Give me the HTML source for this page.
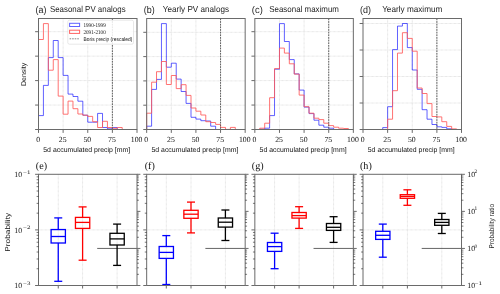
<!DOCTYPE html>
<html><head><meta charset="utf-8"><style>
html,body{margin:0;padding:0;background:#fff;width:500px;height:294px;overflow:hidden}
svg{display:block;will-change:transform} text{text-rendering:geometricPrecision}
.tk{font-family:"Liberation Serif",serif;font-size:7.8px;fill:#111}
.sup{font-family:"Liberation Serif",serif;font-size:5.4px;fill:#111}
.lab{font-family:"Liberation Sans",sans-serif;font-size:7.0px;fill:#111}
.ttl{font-family:"Liberation Sans",sans-serif;font-size:8.6px;fill:#1e1e1e}
.ttl2{font-family:"Liberation Sans",sans-serif;font-size:9.8px;fill:#1e1e1e}
.pl{font-family:"Liberation Serif",serif;font-size:10.2px;fill:#111}
.leg{font-family:"Liberation Serif",serif;font-size:5.7px;fill:#111}
.legs{font-family:"Liberation Sans",sans-serif;font-size:5.4px;fill:#111}
</style></head><body>
<svg width="500" height="294" viewBox="0 0 500 294">
<rect width="500" height="294" fill="#fff"/>
<line x1="38.50" y1="105.05" x2="137.00" y2="105.05" stroke="#e2e2e2" stroke-width="1.0" stroke-dasharray="0.8 0.5"/>
<line x1="38.50" y1="80.60" x2="137.00" y2="80.60" stroke="#e2e2e2" stroke-width="1.0" stroke-dasharray="0.8 0.5"/>
<line x1="38.50" y1="56.15" x2="137.00" y2="56.15" stroke="#e2e2e2" stroke-width="1.0" stroke-dasharray="0.8 0.5"/>
<line x1="38.50" y1="31.70" x2="137.00" y2="31.70" stroke="#e2e2e2" stroke-width="1.0" stroke-dasharray="0.8 0.5"/>
<line x1="63.12" y1="18.50" x2="63.12" y2="129.50" stroke="#e2e2e2" stroke-width="1.0" stroke-dasharray="0.8 0.5"/>
<line x1="87.75" y1="18.50" x2="87.75" y2="129.50" stroke="#e2e2e2" stroke-width="1.0" stroke-dasharray="0.8 0.5"/>
<line x1="112.38" y1="18.50" x2="112.38" y2="129.50" stroke="#e2e2e2" stroke-width="1.0" stroke-dasharray="0.8 0.5"/>
<path d="M38.50,129.50 L38.50,115.60 L43.42,115.60 L43.42,85.40 L48.35,85.40 L48.35,57.60 L53.27,57.60 L53.27,40.50 L58.20,40.50 L58.20,57.60 L63.12,57.60 L63.12,75.40 L68.05,75.40 L68.05,94.10 L72.97,94.10 L72.97,96.50 L77.90,96.50 L77.90,101.20 L82.82,101.20 L82.82,115.20 L87.75,115.20 L87.75,122.20 L92.67,122.20 L92.67,122.20 L97.60,122.20 L97.60,113.40 L102.52,113.40 L102.52,127.50 L107.45,127.50 L107.45,128.80 L112.37,128.80 L112.37,127.50 L117.30,127.50 L117.30,129.50" fill="none" stroke="#0000ff" stroke-opacity="0.62" stroke-width="1.0" stroke-linejoin="round"/>
<path d="M38.50,129.50 L38.50,39.50 L43.42,39.50 L43.42,23.60 L48.35,23.60 L48.35,70.20 L53.27,70.20 L53.27,59.60 L58.20,59.60 L58.20,96.10 L63.12,96.10 L63.12,114.20 L68.05,114.20 L68.05,101.10 L72.97,101.10 L72.97,108.70 L77.90,108.70 L77.90,114.00 L82.82,114.00 L82.82,115.20 L87.75,115.20 L87.75,116.40 L92.67,116.40 L92.67,121.70 L97.60,121.70 L97.60,127.50 L102.52,127.50 L102.52,121.30 L107.45,121.30 L107.45,127.50 L112.37,127.50 L112.37,128.30 L117.30,128.30 L117.30,127.50 L122.22,127.50 L122.22,129.50" fill="none" stroke="#ff5a5a" stroke-opacity="0.85" stroke-width="1.0" stroke-linejoin="round"/>
<line x1="112.38" y1="18.50" x2="112.38" y2="129.50" stroke="#5e5e5e" stroke-width="1.0" stroke-dasharray="1.7 0.95"/>
<rect x="38.50" y="18.50" width="98.50" height="111.00" fill="none" stroke="#6a6a6a" stroke-width="1.0"/>
<line x1="35.10" y1="129.50" x2="38.50" y2="129.50" stroke="#6a6a6a" stroke-width="1.0"/>
<line x1="35.10" y1="105.05" x2="38.50" y2="105.05" stroke="#6a6a6a" stroke-width="1.0"/>
<line x1="35.10" y1="80.60" x2="38.50" y2="80.60" stroke="#6a6a6a" stroke-width="1.0"/>
<line x1="35.10" y1="56.15" x2="38.50" y2="56.15" stroke="#6a6a6a" stroke-width="1.0"/>
<line x1="35.10" y1="31.70" x2="38.50" y2="31.70" stroke="#6a6a6a" stroke-width="1.0"/>
<line x1="38.50" y1="129.50" x2="38.50" y2="132.90" stroke="#6a6a6a" stroke-width="1.0"/>
<text transform="translate(38.10,142.00) skewX(0.3)" class="tk" text-anchor="middle">0</text>
<line x1="63.12" y1="129.50" x2="63.12" y2="132.90" stroke="#6a6a6a" stroke-width="1.0"/>
<text transform="translate(62.73,142.00) skewX(0.3)" class="tk" text-anchor="middle">25</text>
<line x1="87.75" y1="129.50" x2="87.75" y2="132.90" stroke="#6a6a6a" stroke-width="1.0"/>
<text transform="translate(87.35,142.00) skewX(0.3)" class="tk" text-anchor="middle">50</text>
<line x1="112.38" y1="129.50" x2="112.38" y2="132.90" stroke="#6a6a6a" stroke-width="1.0"/>
<text transform="translate(111.97,142.00) skewX(0.3)" class="tk" text-anchor="middle">75</text>
<line x1="137.00" y1="129.50" x2="137.00" y2="132.90" stroke="#6a6a6a" stroke-width="1.0"/>
<text transform="translate(136.60,142.00) skewX(0.3)" class="tk" text-anchor="middle">100</text>
<text transform="translate(86.75,152.40) skewX(0.3)" class="lab" text-anchor="middle" textLength="87" lengthAdjust="spacingAndGlyphs">5d accumulated precip [mm]</text>
<text transform="translate(87.75,12.10) skewX(0.3)" class="ttl" text-anchor="middle" textLength="75.7" lengthAdjust="spacingAndGlyphs">Seasonal PV analogs</text>
<text transform="translate(35.50,13.00) skewX(0.3)" class="ttl2" textLength="11" lengthAdjust="spacingAndGlyphs">(a)</text>
<line x1="146.67" y1="105.20" x2="245.17" y2="105.20" stroke="#e2e2e2" stroke-width="1.0" stroke-dasharray="0.8 0.5"/>
<line x1="146.67" y1="80.90" x2="245.17" y2="80.90" stroke="#e2e2e2" stroke-width="1.0" stroke-dasharray="0.8 0.5"/>
<line x1="146.67" y1="56.60" x2="245.17" y2="56.60" stroke="#e2e2e2" stroke-width="1.0" stroke-dasharray="0.8 0.5"/>
<line x1="146.67" y1="32.30" x2="245.17" y2="32.30" stroke="#e2e2e2" stroke-width="1.0" stroke-dasharray="0.8 0.5"/>
<line x1="171.30" y1="18.50" x2="171.30" y2="129.50" stroke="#e2e2e2" stroke-width="1.0" stroke-dasharray="0.8 0.5"/>
<line x1="195.92" y1="18.50" x2="195.92" y2="129.50" stroke="#e2e2e2" stroke-width="1.0" stroke-dasharray="0.8 0.5"/>
<line x1="220.55" y1="18.50" x2="220.55" y2="129.50" stroke="#e2e2e2" stroke-width="1.0" stroke-dasharray="0.8 0.5"/>
<path d="M146.67,129.50 L146.67,126.20 L151.60,126.20 L151.60,89.40 L156.52,89.40 L156.52,79.40 L161.45,79.40 L161.45,23.60 L166.37,23.60 L166.37,67.20 L171.30,67.20 L171.30,63.20 L176.22,63.20 L176.22,79.10 L181.15,79.10 L181.15,91.50 L186.07,91.50 L186.07,103.40 L191.00,103.40 L191.00,117.30 L195.92,117.30 L195.92,119.10 L200.85,119.10 L200.85,120.70 L205.77,120.70 L205.77,121.00 L210.70,121.00 L210.70,126.20 L215.62,126.20 L215.62,129.50" fill="none" stroke="#0000ff" stroke-opacity="0.62" stroke-width="1.0" stroke-linejoin="round"/>
<path d="M146.67,129.50 L146.67,113.20 L151.60,113.20 L151.60,82.20 L156.52,82.20 L156.52,71.70 L161.45,71.70 L161.45,61.50 L166.37,61.50 L166.37,84.50 L171.30,84.50 L171.30,75.50 L176.22,75.50 L176.22,88.60 L181.15,88.60 L181.15,84.70 L186.07,84.70 L186.07,95.40 L191.00,95.40 L191.00,108.00 L195.92,108.00 L195.92,111.20 L200.85,111.20 L200.85,115.00 L205.77,115.00 L205.77,121.70 L210.70,121.70 L210.70,122.50 L215.62,122.50 L215.62,124.40 L220.55,124.40 L220.55,127.40 L225.47,127.40 L225.47,129.40 L230.40,129.40 L230.40,127.40 L235.32,127.40 L235.32,129.50" fill="none" stroke="#ff5a5a" stroke-opacity="0.85" stroke-width="1.0" stroke-linejoin="round"/>
<line x1="220.55" y1="18.50" x2="220.55" y2="129.50" stroke="#5e5e5e" stroke-width="1.0" stroke-dasharray="1.7 0.95"/>
<rect x="146.67" y="18.50" width="98.50" height="111.00" fill="none" stroke="#6a6a6a" stroke-width="1.0"/>
<line x1="143.27" y1="129.50" x2="146.67" y2="129.50" stroke="#6a6a6a" stroke-width="1.0"/>
<line x1="143.27" y1="105.20" x2="146.67" y2="105.20" stroke="#6a6a6a" stroke-width="1.0"/>
<line x1="143.27" y1="80.90" x2="146.67" y2="80.90" stroke="#6a6a6a" stroke-width="1.0"/>
<line x1="143.27" y1="56.60" x2="146.67" y2="56.60" stroke="#6a6a6a" stroke-width="1.0"/>
<line x1="143.27" y1="32.30" x2="146.67" y2="32.30" stroke="#6a6a6a" stroke-width="1.0"/>
<line x1="146.67" y1="129.50" x2="146.67" y2="132.90" stroke="#6a6a6a" stroke-width="1.0"/>
<text transform="translate(146.27,142.00) skewX(0.3)" class="tk" text-anchor="middle">0</text>
<line x1="171.30" y1="129.50" x2="171.30" y2="132.90" stroke="#6a6a6a" stroke-width="1.0"/>
<text transform="translate(170.90,142.00) skewX(0.3)" class="tk" text-anchor="middle">25</text>
<line x1="195.92" y1="129.50" x2="195.92" y2="132.90" stroke="#6a6a6a" stroke-width="1.0"/>
<text transform="translate(195.52,142.00) skewX(0.3)" class="tk" text-anchor="middle">50</text>
<line x1="220.55" y1="129.50" x2="220.55" y2="132.90" stroke="#6a6a6a" stroke-width="1.0"/>
<text transform="translate(220.15,142.00) skewX(0.3)" class="tk" text-anchor="middle">75</text>
<line x1="245.17" y1="129.50" x2="245.17" y2="132.90" stroke="#6a6a6a" stroke-width="1.0"/>
<text transform="translate(244.77,142.00) skewX(0.3)" class="tk" text-anchor="middle">100</text>
<text transform="translate(194.92,152.40) skewX(0.3)" class="lab" text-anchor="middle" textLength="87" lengthAdjust="spacingAndGlyphs">5d accumulated precip [mm]</text>
<text transform="translate(195.92,12.10) skewX(0.3)" class="ttl" text-anchor="middle" textLength="66.3" lengthAdjust="spacingAndGlyphs">Yearly PV analogs</text>
<text transform="translate(143.67,13.00) skewX(0.3)" class="ttl2" textLength="11" lengthAdjust="spacingAndGlyphs">(b)</text>
<line x1="254.84" y1="105.05" x2="353.34" y2="105.05" stroke="#e2e2e2" stroke-width="1.0" stroke-dasharray="0.8 0.5"/>
<line x1="254.84" y1="80.60" x2="353.34" y2="80.60" stroke="#e2e2e2" stroke-width="1.0" stroke-dasharray="0.8 0.5"/>
<line x1="254.84" y1="56.15" x2="353.34" y2="56.15" stroke="#e2e2e2" stroke-width="1.0" stroke-dasharray="0.8 0.5"/>
<line x1="254.84" y1="31.70" x2="353.34" y2="31.70" stroke="#e2e2e2" stroke-width="1.0" stroke-dasharray="0.8 0.5"/>
<line x1="279.47" y1="18.50" x2="279.47" y2="129.50" stroke="#e2e2e2" stroke-width="1.0" stroke-dasharray="0.8 0.5"/>
<line x1="304.09" y1="18.50" x2="304.09" y2="129.50" stroke="#e2e2e2" stroke-width="1.0" stroke-dasharray="0.8 0.5"/>
<line x1="328.72" y1="18.50" x2="328.72" y2="129.50" stroke="#e2e2e2" stroke-width="1.0" stroke-dasharray="0.8 0.5"/>
<path d="M259.76,129.50 L259.76,129.20 L264.69,129.20 L264.69,128.20 L269.62,128.20 L269.62,115.60 L274.54,115.60 L274.54,69.20 L279.47,69.20 L279.47,23.60 L284.39,23.60 L284.39,41.50 L289.32,41.50 L289.32,59.60 L294.24,59.60 L294.24,73.90 L299.17,73.90 L299.17,90.10 L304.09,90.10 L304.09,107.10 L309.02,107.10 L309.02,113.60 L313.94,113.60 L313.94,120.20 L318.87,120.20 L318.87,125.20 L323.79,125.20 L323.79,127.20 L328.72,127.20 L328.72,128.20 L333.64,128.20 L333.64,129.50" fill="none" stroke="#0000ff" stroke-opacity="0.62" stroke-width="1.0" stroke-linejoin="round"/>
<path d="M259.76,129.50 L259.76,128.20 L264.69,128.20 L264.69,123.20 L269.62,123.20 L269.62,97.70 L274.54,97.70 L274.54,68.60 L279.47,68.60 L279.47,48.10 L284.39,48.10 L284.39,53.10 L289.32,53.10 L289.32,63.80 L294.24,63.80 L294.24,74.10 L299.17,74.10 L299.17,95.10 L304.09,95.10 L304.09,106.70 L309.02,106.70 L309.02,113.20 L313.94,113.20 L313.94,118.20 L318.87,118.20 L318.87,119.60 L323.79,119.60 L323.79,123.20 L328.72,123.20 L328.72,125.60 L333.64,125.60 L333.64,127.20 L338.57,127.20 L338.57,128.20 L343.49,128.20 L343.49,128.50 L348.42,128.50 L348.42,129.50" fill="none" stroke="#ff5a5a" stroke-opacity="0.85" stroke-width="1.0" stroke-linejoin="round"/>
<line x1="328.72" y1="18.50" x2="328.72" y2="129.50" stroke="#5e5e5e" stroke-width="1.0" stroke-dasharray="1.7 0.95"/>
<rect x="254.84" y="18.50" width="98.50" height="111.00" fill="none" stroke="#6a6a6a" stroke-width="1.0"/>
<line x1="251.44" y1="129.50" x2="254.84" y2="129.50" stroke="#6a6a6a" stroke-width="1.0"/>
<line x1="251.44" y1="105.05" x2="254.84" y2="105.05" stroke="#6a6a6a" stroke-width="1.0"/>
<line x1="251.44" y1="80.60" x2="254.84" y2="80.60" stroke="#6a6a6a" stroke-width="1.0"/>
<line x1="251.44" y1="56.15" x2="254.84" y2="56.15" stroke="#6a6a6a" stroke-width="1.0"/>
<line x1="251.44" y1="31.70" x2="254.84" y2="31.70" stroke="#6a6a6a" stroke-width="1.0"/>
<line x1="254.84" y1="129.50" x2="254.84" y2="132.90" stroke="#6a6a6a" stroke-width="1.0"/>
<text transform="translate(254.44,142.00) skewX(0.3)" class="tk" text-anchor="middle">0</text>
<line x1="279.47" y1="129.50" x2="279.47" y2="132.90" stroke="#6a6a6a" stroke-width="1.0"/>
<text transform="translate(279.07,142.00) skewX(0.3)" class="tk" text-anchor="middle">25</text>
<line x1="304.09" y1="129.50" x2="304.09" y2="132.90" stroke="#6a6a6a" stroke-width="1.0"/>
<text transform="translate(303.69,142.00) skewX(0.3)" class="tk" text-anchor="middle">50</text>
<line x1="328.72" y1="129.50" x2="328.72" y2="132.90" stroke="#6a6a6a" stroke-width="1.0"/>
<text transform="translate(328.32,142.00) skewX(0.3)" class="tk" text-anchor="middle">75</text>
<line x1="353.34" y1="129.50" x2="353.34" y2="132.90" stroke="#6a6a6a" stroke-width="1.0"/>
<text transform="translate(352.94,142.00) skewX(0.3)" class="tk" text-anchor="middle">100</text>
<text transform="translate(303.09,152.40) skewX(0.3)" class="lab" text-anchor="middle" textLength="87" lengthAdjust="spacingAndGlyphs">5d accumulated precip [mm]</text>
<text transform="translate(304.09,12.10) skewX(0.3)" class="ttl" text-anchor="middle" textLength="69.7" lengthAdjust="spacingAndGlyphs">Seasonal maximum</text>
<text transform="translate(251.84,13.00) skewX(0.3)" class="ttl2" textLength="11" lengthAdjust="spacingAndGlyphs">(c)</text>
<line x1="363.01" y1="103.00" x2="461.51" y2="103.00" stroke="#e2e2e2" stroke-width="1.0" stroke-dasharray="0.8 0.5"/>
<line x1="363.01" y1="76.50" x2="461.51" y2="76.50" stroke="#e2e2e2" stroke-width="1.0" stroke-dasharray="0.8 0.5"/>
<line x1="363.01" y1="50.00" x2="461.51" y2="50.00" stroke="#e2e2e2" stroke-width="1.0" stroke-dasharray="0.8 0.5"/>
<line x1="363.01" y1="23.50" x2="461.51" y2="23.50" stroke="#e2e2e2" stroke-width="1.0" stroke-dasharray="0.8 0.5"/>
<line x1="387.63" y1="18.50" x2="387.63" y2="129.50" stroke="#e2e2e2" stroke-width="1.0" stroke-dasharray="0.8 0.5"/>
<line x1="412.26" y1="18.50" x2="412.26" y2="129.50" stroke="#e2e2e2" stroke-width="1.0" stroke-dasharray="0.8 0.5"/>
<line x1="436.88" y1="18.50" x2="436.88" y2="129.50" stroke="#e2e2e2" stroke-width="1.0" stroke-dasharray="0.8 0.5"/>
<path d="M382.71,129.50 L382.71,127.60 L387.63,127.60 L387.63,106.70 L392.56,106.70 L392.56,49.60 L397.49,49.60 L397.49,26.10 L402.41,26.10 L402.41,23.50 L407.34,23.50 L407.34,47.60 L412.26,47.60 L412.26,70.00 L417.19,70.00 L417.19,89.30 L422.11,89.30 L422.11,109.70 L427.04,109.70 L427.04,119.20 L431.96,119.20 L431.96,124.50 L436.89,124.50 L436.89,126.80 L441.81,126.80 L441.81,127.40 L446.74,127.40 L446.74,128.80 L451.66,128.80 L451.66,129.50" fill="none" stroke="#0000ff" stroke-opacity="0.62" stroke-width="1.0" stroke-linejoin="round"/>
<path d="M387.63,129.50 L387.63,119.20 L392.56,119.20 L392.56,90.70 L397.49,90.70 L397.49,53.10 L402.41,53.10 L402.41,32.70 L407.34,32.70 L407.34,38.40 L412.26,38.40 L412.26,51.20 L417.19,51.20 L417.19,88.00 L422.11,88.00 L422.11,93.50 L427.04,93.50 L427.04,103.60 L431.96,103.60 L431.96,116.50 L436.89,116.50 L436.89,116.90 L441.81,116.90 L441.81,121.70 L446.74,121.70 L446.74,126.40 L451.66,126.40 L451.66,128.90 L456.59,128.90 L456.59,129.50" fill="none" stroke="#ff5a5a" stroke-opacity="0.85" stroke-width="1.0" stroke-linejoin="round"/>
<line x1="436.88" y1="18.50" x2="436.88" y2="129.50" stroke="#5e5e5e" stroke-width="1.0" stroke-dasharray="1.7 0.95"/>
<rect x="363.01" y="18.50" width="98.50" height="111.00" fill="none" stroke="#6a6a6a" stroke-width="1.0"/>
<line x1="359.61" y1="129.50" x2="363.01" y2="129.50" stroke="#6a6a6a" stroke-width="1.0"/>
<line x1="359.61" y1="103.00" x2="363.01" y2="103.00" stroke="#6a6a6a" stroke-width="1.0"/>
<line x1="359.61" y1="76.50" x2="363.01" y2="76.50" stroke="#6a6a6a" stroke-width="1.0"/>
<line x1="359.61" y1="50.00" x2="363.01" y2="50.00" stroke="#6a6a6a" stroke-width="1.0"/>
<line x1="359.61" y1="23.50" x2="363.01" y2="23.50" stroke="#6a6a6a" stroke-width="1.0"/>
<line x1="363.01" y1="129.50" x2="363.01" y2="132.90" stroke="#6a6a6a" stroke-width="1.0"/>
<text transform="translate(362.61,142.00) skewX(0.3)" class="tk" text-anchor="middle">0</text>
<line x1="387.63" y1="129.50" x2="387.63" y2="132.90" stroke="#6a6a6a" stroke-width="1.0"/>
<text transform="translate(387.24,142.00) skewX(0.3)" class="tk" text-anchor="middle">25</text>
<line x1="412.26" y1="129.50" x2="412.26" y2="132.90" stroke="#6a6a6a" stroke-width="1.0"/>
<text transform="translate(411.86,142.00) skewX(0.3)" class="tk" text-anchor="middle">50</text>
<line x1="436.88" y1="129.50" x2="436.88" y2="132.90" stroke="#6a6a6a" stroke-width="1.0"/>
<text transform="translate(436.49,142.00) skewX(0.3)" class="tk" text-anchor="middle">75</text>
<line x1="461.51" y1="129.50" x2="461.51" y2="132.90" stroke="#6a6a6a" stroke-width="1.0"/>
<text transform="translate(461.11,142.00) skewX(0.3)" class="tk" text-anchor="middle">100</text>
<text transform="translate(411.26,152.40) skewX(0.3)" class="lab" text-anchor="middle" textLength="87" lengthAdjust="spacingAndGlyphs">5d accumulated precip [mm]</text>
<text transform="translate(412.26,12.10) skewX(0.3)" class="ttl" text-anchor="middle" textLength="60.2" lengthAdjust="spacingAndGlyphs">Yearly maximum</text>
<text transform="translate(360.01,13.00) skewX(0.3)" class="ttl2" textLength="11" lengthAdjust="spacingAndGlyphs">(d)</text>
<rect x="67.8" y="20.2" width="65.7" height="24" rx="1.6" fill="#fff" fill-opacity="0.85" stroke="#d8d8d8" stroke-width="0.6"/>
<rect x="69.6" y="23.3" width="10" height="3.2" fill="none" stroke="#0000ff" stroke-opacity="0.62" stroke-width="1"/>
<rect x="69.6" y="30.2" width="10" height="3.2" fill="none" stroke="#ff0000" stroke-opacity="0.62" stroke-width="1"/>
<line x1="69.6" y1="38.8" x2="79.6" y2="38.8" stroke="#777" stroke-width="0.9" stroke-dasharray="1.6 0.95"/>
<text transform="translate(83.50,26.90) skewX(0.3)" class="leg" textLength="22.2" lengthAdjust="spacingAndGlyphs">1990-1999</text>
<text transform="translate(83.50,33.90) skewX(0.3)" class="leg" textLength="22.2" lengthAdjust="spacingAndGlyphs">2091-2100</text>
<text transform="translate(83.50,40.50) skewX(0.3)" class="legs" textLength="48.8" lengthAdjust="spacingAndGlyphs">Boris precip (rescaled)</text>
<text transform="translate(26.30,74.40) rotate(-90) skewX(0.3)" class="lab" text-anchor="middle" textLength="23.2" lengthAdjust="spacingAndGlyphs">Density</text>
<line x1="38.50" y1="229.90" x2="137.00" y2="229.90" stroke="#e2e2e2" stroke-width="1.0" stroke-dasharray="0.8 0.5"/>
<line x1="58.25" y1="174.30" x2="58.25" y2="285.50" stroke="#e2e2e2" stroke-width="1.0" stroke-dasharray="0.8 0.5"/>
<line x1="82.60" y1="174.30" x2="82.60" y2="285.50" stroke="#e2e2e2" stroke-width="1.0" stroke-dasharray="0.8 0.5"/>
<line x1="117.10" y1="174.30" x2="117.10" y2="285.50" stroke="#e2e2e2" stroke-width="1.0" stroke-dasharray="0.8 0.5"/>
<line x1="97.20" y1="248.43" x2="137.00" y2="248.43" stroke="#555" stroke-width="0.9"/>
<rect x="51.10" y="229.55" width="14.30" height="13.45" stroke="#0000ff" stroke-width="1.3" fill="none"/>
<line x1="51.10" y1="236.50" x2="65.40" y2="236.50" stroke="#0000ff" stroke-width="1.3" fill="none"/>
<line x1="58.25" y1="217.90" x2="58.25" y2="229.55" stroke="#0000ff" stroke-width="1.3" fill="none"/>
<line x1="58.25" y1="243.00" x2="58.25" y2="281.30" stroke="#0000ff" stroke-width="1.3" fill="none"/>
<line x1="54.25" y1="217.90" x2="62.25" y2="217.90" stroke="#0000ff" stroke-width="1.3" fill="none"/>
<line x1="54.25" y1="281.30" x2="62.25" y2="281.30" stroke="#0000ff" stroke-width="1.3" fill="none"/>
<rect x="75.45" y="217.40" width="14.30" height="11.00" stroke="#ff0000" stroke-width="1.3" fill="none"/>
<line x1="75.45" y1="222.40" x2="89.75" y2="222.40" stroke="#ff0000" stroke-width="1.3" fill="none"/>
<line x1="82.60" y1="206.90" x2="82.60" y2="217.40" stroke="#ff0000" stroke-width="1.3" fill="none"/>
<line x1="82.60" y1="228.40" x2="82.60" y2="260.20" stroke="#ff0000" stroke-width="1.3" fill="none"/>
<line x1="78.60" y1="206.90" x2="86.60" y2="206.90" stroke="#ff0000" stroke-width="1.3" fill="none"/>
<line x1="78.60" y1="260.20" x2="86.60" y2="260.20" stroke="#ff0000" stroke-width="1.3" fill="none"/>
<rect x="109.95" y="233.30" width="14.30" height="11.70" stroke="#000000" stroke-width="1.3" fill="none"/>
<line x1="109.95" y1="238.90" x2="124.25" y2="238.90" stroke="#000000" stroke-width="1.3" fill="none"/>
<line x1="117.10" y1="224.10" x2="117.10" y2="233.30" stroke="#000000" stroke-width="1.3" fill="none"/>
<line x1="117.10" y1="245.00" x2="117.10" y2="265.40" stroke="#000000" stroke-width="1.3" fill="none"/>
<line x1="113.10" y1="224.10" x2="121.10" y2="224.10" stroke="#000000" stroke-width="1.3" fill="none"/>
<line x1="113.10" y1="265.40" x2="121.10" y2="265.40" stroke="#000000" stroke-width="1.3" fill="none"/>
<rect x="38.50" y="174.30" width="98.50" height="111.20" fill="none" stroke="#6a6a6a" stroke-width="1.0"/>
<line x1="35.10" y1="174.30" x2="38.50" y2="174.30" stroke="#6a6a6a" stroke-width="1.0"/>
<line x1="35.10" y1="229.90" x2="38.50" y2="229.90" stroke="#6a6a6a" stroke-width="1.0"/>
<line x1="35.10" y1="285.50" x2="38.50" y2="285.50" stroke="#6a6a6a" stroke-width="1.0"/>
<line x1="36.60" y1="213.16" x2="38.50" y2="213.16" stroke="#222" stroke-width="0.6"/>
<line x1="36.60" y1="203.37" x2="38.50" y2="203.37" stroke="#222" stroke-width="0.6"/>
<line x1="36.60" y1="196.43" x2="38.50" y2="196.43" stroke="#222" stroke-width="0.6"/>
<line x1="36.60" y1="191.04" x2="38.50" y2="191.04" stroke="#222" stroke-width="0.6"/>
<line x1="36.60" y1="186.63" x2="38.50" y2="186.63" stroke="#222" stroke-width="0.6"/>
<line x1="36.60" y1="182.91" x2="38.50" y2="182.91" stroke="#222" stroke-width="0.6"/>
<line x1="36.60" y1="179.69" x2="38.50" y2="179.69" stroke="#222" stroke-width="0.6"/>
<line x1="36.60" y1="176.84" x2="38.50" y2="176.84" stroke="#222" stroke-width="0.6"/>
<line x1="36.60" y1="268.76" x2="38.50" y2="268.76" stroke="#222" stroke-width="0.6"/>
<line x1="36.60" y1="258.97" x2="38.50" y2="258.97" stroke="#222" stroke-width="0.6"/>
<line x1="36.60" y1="252.03" x2="38.50" y2="252.03" stroke="#222" stroke-width="0.6"/>
<line x1="36.60" y1="246.64" x2="38.50" y2="246.64" stroke="#222" stroke-width="0.6"/>
<line x1="36.60" y1="242.23" x2="38.50" y2="242.23" stroke="#222" stroke-width="0.6"/>
<line x1="36.60" y1="238.51" x2="38.50" y2="238.51" stroke="#222" stroke-width="0.6"/>
<line x1="36.60" y1="235.29" x2="38.50" y2="235.29" stroke="#222" stroke-width="0.6"/>
<line x1="36.60" y1="232.44" x2="38.50" y2="232.44" stroke="#222" stroke-width="0.6"/>
<line x1="137.00" y1="285.50" x2="140.40" y2="285.50" stroke="#6a6a6a" stroke-width="1.0"/>
<line x1="137.00" y1="248.43" x2="140.40" y2="248.43" stroke="#6a6a6a" stroke-width="1.0"/>
<line x1="137.00" y1="211.37" x2="140.40" y2="211.37" stroke="#6a6a6a" stroke-width="1.0"/>
<line x1="137.00" y1="174.30" x2="140.40" y2="174.30" stroke="#6a6a6a" stroke-width="1.0"/>
<line x1="137.00" y1="274.34" x2="138.90" y2="274.34" stroke="#222" stroke-width="0.6"/>
<line x1="137.00" y1="267.81" x2="138.90" y2="267.81" stroke="#222" stroke-width="0.6"/>
<line x1="137.00" y1="263.18" x2="138.90" y2="263.18" stroke="#222" stroke-width="0.6"/>
<line x1="137.00" y1="259.59" x2="138.90" y2="259.59" stroke="#222" stroke-width="0.6"/>
<line x1="137.00" y1="256.66" x2="138.90" y2="256.66" stroke="#222" stroke-width="0.6"/>
<line x1="137.00" y1="254.18" x2="138.90" y2="254.18" stroke="#222" stroke-width="0.6"/>
<line x1="137.00" y1="252.03" x2="138.90" y2="252.03" stroke="#222" stroke-width="0.6"/>
<line x1="137.00" y1="250.13" x2="138.90" y2="250.13" stroke="#222" stroke-width="0.6"/>
<line x1="137.00" y1="237.28" x2="138.90" y2="237.28" stroke="#222" stroke-width="0.6"/>
<line x1="137.00" y1="230.75" x2="138.90" y2="230.75" stroke="#222" stroke-width="0.6"/>
<line x1="137.00" y1="226.12" x2="138.90" y2="226.12" stroke="#222" stroke-width="0.6"/>
<line x1="137.00" y1="222.52" x2="138.90" y2="222.52" stroke="#222" stroke-width="0.6"/>
<line x1="137.00" y1="219.59" x2="138.90" y2="219.59" stroke="#222" stroke-width="0.6"/>
<line x1="137.00" y1="217.11" x2="138.90" y2="217.11" stroke="#222" stroke-width="0.6"/>
<line x1="137.00" y1="214.96" x2="138.90" y2="214.96" stroke="#222" stroke-width="0.6"/>
<line x1="137.00" y1="213.06" x2="138.90" y2="213.06" stroke="#222" stroke-width="0.6"/>
<line x1="137.00" y1="200.21" x2="138.90" y2="200.21" stroke="#222" stroke-width="0.6"/>
<line x1="137.00" y1="193.68" x2="138.90" y2="193.68" stroke="#222" stroke-width="0.6"/>
<line x1="137.00" y1="189.05" x2="138.90" y2="189.05" stroke="#222" stroke-width="0.6"/>
<line x1="137.00" y1="185.46" x2="138.90" y2="185.46" stroke="#222" stroke-width="0.6"/>
<line x1="137.00" y1="182.52" x2="138.90" y2="182.52" stroke="#222" stroke-width="0.6"/>
<line x1="137.00" y1="180.04" x2="138.90" y2="180.04" stroke="#222" stroke-width="0.6"/>
<line x1="137.00" y1="177.89" x2="138.90" y2="177.89" stroke="#222" stroke-width="0.6"/>
<line x1="137.00" y1="176.00" x2="138.90" y2="176.00" stroke="#222" stroke-width="0.6"/>
<line x1="58.25" y1="285.50" x2="58.25" y2="288.50" stroke="#6a6a6a" stroke-width="1.0"/>
<line x1="82.60" y1="285.50" x2="82.60" y2="288.50" stroke="#6a6a6a" stroke-width="1.0"/>
<line x1="117.10" y1="285.50" x2="117.10" y2="288.50" stroke="#6a6a6a" stroke-width="1.0"/>
<text transform="translate(35.80,169.00) skewX(0.3)" class="pl">(e)</text>
<line x1="146.67" y1="229.90" x2="245.17" y2="229.90" stroke="#e2e2e2" stroke-width="1.0" stroke-dasharray="0.8 0.5"/>
<line x1="166.30" y1="174.30" x2="166.30" y2="285.50" stroke="#e2e2e2" stroke-width="1.0" stroke-dasharray="0.8 0.5"/>
<line x1="191.00" y1="174.30" x2="191.00" y2="285.50" stroke="#e2e2e2" stroke-width="1.0" stroke-dasharray="0.8 0.5"/>
<line x1="225.40" y1="174.30" x2="225.40" y2="285.50" stroke="#e2e2e2" stroke-width="1.0" stroke-dasharray="0.8 0.5"/>
<line x1="205.37" y1="248.43" x2="245.17" y2="248.43" stroke="#555" stroke-width="0.9"/>
<rect x="159.15" y="246.50" width="14.30" height="11.90" stroke="#0000ff" stroke-width="1.3" fill="none"/>
<line x1="159.15" y1="252.40" x2="173.45" y2="252.40" stroke="#0000ff" stroke-width="1.3" fill="none"/>
<line x1="166.30" y1="235.60" x2="166.30" y2="246.50" stroke="#0000ff" stroke-width="1.3" fill="none"/>
<line x1="166.30" y1="258.40" x2="166.30" y2="284.50" stroke="#0000ff" stroke-width="1.3" fill="none"/>
<line x1="162.30" y1="235.60" x2="170.30" y2="235.60" stroke="#0000ff" stroke-width="1.3" fill="none"/>
<line x1="162.30" y1="284.50" x2="170.30" y2="284.50" stroke="#0000ff" stroke-width="1.3" fill="none"/>
<rect x="183.85" y="210.30" width="14.30" height="8.00" stroke="#ff0000" stroke-width="1.3" fill="none"/>
<line x1="183.85" y1="214.20" x2="198.15" y2="214.20" stroke="#ff0000" stroke-width="1.3" fill="none"/>
<line x1="191.00" y1="202.10" x2="191.00" y2="210.30" stroke="#ff0000" stroke-width="1.3" fill="none"/>
<line x1="191.00" y1="218.30" x2="191.00" y2="232.90" stroke="#ff0000" stroke-width="1.3" fill="none"/>
<line x1="187.00" y1="202.10" x2="195.00" y2="202.10" stroke="#ff0000" stroke-width="1.3" fill="none"/>
<line x1="187.00" y1="232.90" x2="195.00" y2="232.90" stroke="#ff0000" stroke-width="1.3" fill="none"/>
<rect x="218.25" y="218.00" width="14.30" height="9.10" stroke="#000000" stroke-width="1.3" fill="none"/>
<line x1="218.25" y1="222.20" x2="232.55" y2="222.20" stroke="#000000" stroke-width="1.3" fill="none"/>
<line x1="225.40" y1="210.00" x2="225.40" y2="218.00" stroke="#000000" stroke-width="1.3" fill="none"/>
<line x1="225.40" y1="227.10" x2="225.40" y2="240.50" stroke="#000000" stroke-width="1.3" fill="none"/>
<line x1="221.40" y1="210.00" x2="229.40" y2="210.00" stroke="#000000" stroke-width="1.3" fill="none"/>
<line x1="221.40" y1="240.50" x2="229.40" y2="240.50" stroke="#000000" stroke-width="1.3" fill="none"/>
<rect x="146.67" y="174.30" width="98.50" height="111.20" fill="none" stroke="#6a6a6a" stroke-width="1.0"/>
<line x1="143.27" y1="174.30" x2="146.67" y2="174.30" stroke="#6a6a6a" stroke-width="1.0"/>
<line x1="143.27" y1="229.90" x2="146.67" y2="229.90" stroke="#6a6a6a" stroke-width="1.0"/>
<line x1="143.27" y1="285.50" x2="146.67" y2="285.50" stroke="#6a6a6a" stroke-width="1.0"/>
<line x1="144.77" y1="213.16" x2="146.67" y2="213.16" stroke="#222" stroke-width="0.6"/>
<line x1="144.77" y1="203.37" x2="146.67" y2="203.37" stroke="#222" stroke-width="0.6"/>
<line x1="144.77" y1="196.43" x2="146.67" y2="196.43" stroke="#222" stroke-width="0.6"/>
<line x1="144.77" y1="191.04" x2="146.67" y2="191.04" stroke="#222" stroke-width="0.6"/>
<line x1="144.77" y1="186.63" x2="146.67" y2="186.63" stroke="#222" stroke-width="0.6"/>
<line x1="144.77" y1="182.91" x2="146.67" y2="182.91" stroke="#222" stroke-width="0.6"/>
<line x1="144.77" y1="179.69" x2="146.67" y2="179.69" stroke="#222" stroke-width="0.6"/>
<line x1="144.77" y1="176.84" x2="146.67" y2="176.84" stroke="#222" stroke-width="0.6"/>
<line x1="144.77" y1="268.76" x2="146.67" y2="268.76" stroke="#222" stroke-width="0.6"/>
<line x1="144.77" y1="258.97" x2="146.67" y2="258.97" stroke="#222" stroke-width="0.6"/>
<line x1="144.77" y1="252.03" x2="146.67" y2="252.03" stroke="#222" stroke-width="0.6"/>
<line x1="144.77" y1="246.64" x2="146.67" y2="246.64" stroke="#222" stroke-width="0.6"/>
<line x1="144.77" y1="242.23" x2="146.67" y2="242.23" stroke="#222" stroke-width="0.6"/>
<line x1="144.77" y1="238.51" x2="146.67" y2="238.51" stroke="#222" stroke-width="0.6"/>
<line x1="144.77" y1="235.29" x2="146.67" y2="235.29" stroke="#222" stroke-width="0.6"/>
<line x1="144.77" y1="232.44" x2="146.67" y2="232.44" stroke="#222" stroke-width="0.6"/>
<line x1="245.17" y1="285.50" x2="248.57" y2="285.50" stroke="#6a6a6a" stroke-width="1.0"/>
<line x1="245.17" y1="248.43" x2="248.57" y2="248.43" stroke="#6a6a6a" stroke-width="1.0"/>
<line x1="245.17" y1="211.37" x2="248.57" y2="211.37" stroke="#6a6a6a" stroke-width="1.0"/>
<line x1="245.17" y1="174.30" x2="248.57" y2="174.30" stroke="#6a6a6a" stroke-width="1.0"/>
<line x1="245.17" y1="274.34" x2="247.07" y2="274.34" stroke="#222" stroke-width="0.6"/>
<line x1="245.17" y1="267.81" x2="247.07" y2="267.81" stroke="#222" stroke-width="0.6"/>
<line x1="245.17" y1="263.18" x2="247.07" y2="263.18" stroke="#222" stroke-width="0.6"/>
<line x1="245.17" y1="259.59" x2="247.07" y2="259.59" stroke="#222" stroke-width="0.6"/>
<line x1="245.17" y1="256.66" x2="247.07" y2="256.66" stroke="#222" stroke-width="0.6"/>
<line x1="245.17" y1="254.18" x2="247.07" y2="254.18" stroke="#222" stroke-width="0.6"/>
<line x1="245.17" y1="252.03" x2="247.07" y2="252.03" stroke="#222" stroke-width="0.6"/>
<line x1="245.17" y1="250.13" x2="247.07" y2="250.13" stroke="#222" stroke-width="0.6"/>
<line x1="245.17" y1="237.28" x2="247.07" y2="237.28" stroke="#222" stroke-width="0.6"/>
<line x1="245.17" y1="230.75" x2="247.07" y2="230.75" stroke="#222" stroke-width="0.6"/>
<line x1="245.17" y1="226.12" x2="247.07" y2="226.12" stroke="#222" stroke-width="0.6"/>
<line x1="245.17" y1="222.52" x2="247.07" y2="222.52" stroke="#222" stroke-width="0.6"/>
<line x1="245.17" y1="219.59" x2="247.07" y2="219.59" stroke="#222" stroke-width="0.6"/>
<line x1="245.17" y1="217.11" x2="247.07" y2="217.11" stroke="#222" stroke-width="0.6"/>
<line x1="245.17" y1="214.96" x2="247.07" y2="214.96" stroke="#222" stroke-width="0.6"/>
<line x1="245.17" y1="213.06" x2="247.07" y2="213.06" stroke="#222" stroke-width="0.6"/>
<line x1="245.17" y1="200.21" x2="247.07" y2="200.21" stroke="#222" stroke-width="0.6"/>
<line x1="245.17" y1="193.68" x2="247.07" y2="193.68" stroke="#222" stroke-width="0.6"/>
<line x1="245.17" y1="189.05" x2="247.07" y2="189.05" stroke="#222" stroke-width="0.6"/>
<line x1="245.17" y1="185.46" x2="247.07" y2="185.46" stroke="#222" stroke-width="0.6"/>
<line x1="245.17" y1="182.52" x2="247.07" y2="182.52" stroke="#222" stroke-width="0.6"/>
<line x1="245.17" y1="180.04" x2="247.07" y2="180.04" stroke="#222" stroke-width="0.6"/>
<line x1="245.17" y1="177.89" x2="247.07" y2="177.89" stroke="#222" stroke-width="0.6"/>
<line x1="245.17" y1="176.00" x2="247.07" y2="176.00" stroke="#222" stroke-width="0.6"/>
<line x1="166.30" y1="285.50" x2="166.30" y2="288.50" stroke="#6a6a6a" stroke-width="1.0"/>
<line x1="191.00" y1="285.50" x2="191.00" y2="288.50" stroke="#6a6a6a" stroke-width="1.0"/>
<line x1="225.40" y1="285.50" x2="225.40" y2="288.50" stroke="#6a6a6a" stroke-width="1.0"/>
<text transform="translate(144.67,169.00) skewX(0.3)" class="pl">(f)</text>
<line x1="254.84" y1="229.90" x2="353.34" y2="229.90" stroke="#e2e2e2" stroke-width="1.0" stroke-dasharray="0.8 0.5"/>
<line x1="274.60" y1="174.30" x2="274.60" y2="285.50" stroke="#e2e2e2" stroke-width="1.0" stroke-dasharray="0.8 0.5"/>
<line x1="299.10" y1="174.30" x2="299.10" y2="285.50" stroke="#e2e2e2" stroke-width="1.0" stroke-dasharray="0.8 0.5"/>
<line x1="333.60" y1="174.30" x2="333.60" y2="285.50" stroke="#e2e2e2" stroke-width="1.0" stroke-dasharray="0.8 0.5"/>
<line x1="313.54" y1="248.43" x2="353.34" y2="248.43" stroke="#555" stroke-width="0.9"/>
<rect x="267.45" y="242.50" width="14.30" height="8.90" stroke="#0000ff" stroke-width="1.3" fill="none"/>
<line x1="267.45" y1="246.60" x2="281.75" y2="246.60" stroke="#0000ff" stroke-width="1.3" fill="none"/>
<line x1="274.60" y1="233.20" x2="274.60" y2="242.50" stroke="#0000ff" stroke-width="1.3" fill="none"/>
<line x1="274.60" y1="251.40" x2="274.60" y2="268.70" stroke="#0000ff" stroke-width="1.3" fill="none"/>
<line x1="270.60" y1="233.20" x2="278.60" y2="233.20" stroke="#0000ff" stroke-width="1.3" fill="none"/>
<line x1="270.60" y1="268.70" x2="278.60" y2="268.70" stroke="#0000ff" stroke-width="1.3" fill="none"/>
<rect x="291.95" y="212.50" width="14.30" height="5.60" stroke="#ff0000" stroke-width="1.3" fill="none"/>
<line x1="291.95" y1="215.60" x2="306.25" y2="215.60" stroke="#ff0000" stroke-width="1.3" fill="none"/>
<line x1="299.10" y1="206.70" x2="299.10" y2="212.50" stroke="#ff0000" stroke-width="1.3" fill="none"/>
<line x1="299.10" y1="218.10" x2="299.10" y2="228.40" stroke="#ff0000" stroke-width="1.3" fill="none"/>
<line x1="295.10" y1="206.70" x2="303.10" y2="206.70" stroke="#ff0000" stroke-width="1.3" fill="none"/>
<line x1="295.10" y1="228.40" x2="303.10" y2="228.40" stroke="#ff0000" stroke-width="1.3" fill="none"/>
<rect x="326.45" y="223.50" width="14.30" height="6.90" stroke="#000000" stroke-width="1.3" fill="none"/>
<line x1="326.45" y1="227.30" x2="340.75" y2="227.30" stroke="#000000" stroke-width="1.3" fill="none"/>
<line x1="333.60" y1="216.70" x2="333.60" y2="223.50" stroke="#000000" stroke-width="1.3" fill="none"/>
<line x1="333.60" y1="230.40" x2="333.60" y2="242.40" stroke="#000000" stroke-width="1.3" fill="none"/>
<line x1="329.60" y1="216.70" x2="337.60" y2="216.70" stroke="#000000" stroke-width="1.3" fill="none"/>
<line x1="329.60" y1="242.40" x2="337.60" y2="242.40" stroke="#000000" stroke-width="1.3" fill="none"/>
<rect x="254.84" y="174.30" width="98.50" height="111.20" fill="none" stroke="#6a6a6a" stroke-width="1.0"/>
<line x1="251.44" y1="174.30" x2="254.84" y2="174.30" stroke="#6a6a6a" stroke-width="1.0"/>
<line x1="251.44" y1="229.90" x2="254.84" y2="229.90" stroke="#6a6a6a" stroke-width="1.0"/>
<line x1="251.44" y1="285.50" x2="254.84" y2="285.50" stroke="#6a6a6a" stroke-width="1.0"/>
<line x1="252.94" y1="213.16" x2="254.84" y2="213.16" stroke="#222" stroke-width="0.6"/>
<line x1="252.94" y1="203.37" x2="254.84" y2="203.37" stroke="#222" stroke-width="0.6"/>
<line x1="252.94" y1="196.43" x2="254.84" y2="196.43" stroke="#222" stroke-width="0.6"/>
<line x1="252.94" y1="191.04" x2="254.84" y2="191.04" stroke="#222" stroke-width="0.6"/>
<line x1="252.94" y1="186.63" x2="254.84" y2="186.63" stroke="#222" stroke-width="0.6"/>
<line x1="252.94" y1="182.91" x2="254.84" y2="182.91" stroke="#222" stroke-width="0.6"/>
<line x1="252.94" y1="179.69" x2="254.84" y2="179.69" stroke="#222" stroke-width="0.6"/>
<line x1="252.94" y1="176.84" x2="254.84" y2="176.84" stroke="#222" stroke-width="0.6"/>
<line x1="252.94" y1="268.76" x2="254.84" y2="268.76" stroke="#222" stroke-width="0.6"/>
<line x1="252.94" y1="258.97" x2="254.84" y2="258.97" stroke="#222" stroke-width="0.6"/>
<line x1="252.94" y1="252.03" x2="254.84" y2="252.03" stroke="#222" stroke-width="0.6"/>
<line x1="252.94" y1="246.64" x2="254.84" y2="246.64" stroke="#222" stroke-width="0.6"/>
<line x1="252.94" y1="242.23" x2="254.84" y2="242.23" stroke="#222" stroke-width="0.6"/>
<line x1="252.94" y1="238.51" x2="254.84" y2="238.51" stroke="#222" stroke-width="0.6"/>
<line x1="252.94" y1="235.29" x2="254.84" y2="235.29" stroke="#222" stroke-width="0.6"/>
<line x1="252.94" y1="232.44" x2="254.84" y2="232.44" stroke="#222" stroke-width="0.6"/>
<line x1="353.34" y1="285.50" x2="356.74" y2="285.50" stroke="#6a6a6a" stroke-width="1.0"/>
<line x1="353.34" y1="248.43" x2="356.74" y2="248.43" stroke="#6a6a6a" stroke-width="1.0"/>
<line x1="353.34" y1="211.37" x2="356.74" y2="211.37" stroke="#6a6a6a" stroke-width="1.0"/>
<line x1="353.34" y1="174.30" x2="356.74" y2="174.30" stroke="#6a6a6a" stroke-width="1.0"/>
<line x1="353.34" y1="274.34" x2="355.24" y2="274.34" stroke="#222" stroke-width="0.6"/>
<line x1="353.34" y1="267.81" x2="355.24" y2="267.81" stroke="#222" stroke-width="0.6"/>
<line x1="353.34" y1="263.18" x2="355.24" y2="263.18" stroke="#222" stroke-width="0.6"/>
<line x1="353.34" y1="259.59" x2="355.24" y2="259.59" stroke="#222" stroke-width="0.6"/>
<line x1="353.34" y1="256.66" x2="355.24" y2="256.66" stroke="#222" stroke-width="0.6"/>
<line x1="353.34" y1="254.18" x2="355.24" y2="254.18" stroke="#222" stroke-width="0.6"/>
<line x1="353.34" y1="252.03" x2="355.24" y2="252.03" stroke="#222" stroke-width="0.6"/>
<line x1="353.34" y1="250.13" x2="355.24" y2="250.13" stroke="#222" stroke-width="0.6"/>
<line x1="353.34" y1="237.28" x2="355.24" y2="237.28" stroke="#222" stroke-width="0.6"/>
<line x1="353.34" y1="230.75" x2="355.24" y2="230.75" stroke="#222" stroke-width="0.6"/>
<line x1="353.34" y1="226.12" x2="355.24" y2="226.12" stroke="#222" stroke-width="0.6"/>
<line x1="353.34" y1="222.52" x2="355.24" y2="222.52" stroke="#222" stroke-width="0.6"/>
<line x1="353.34" y1="219.59" x2="355.24" y2="219.59" stroke="#222" stroke-width="0.6"/>
<line x1="353.34" y1="217.11" x2="355.24" y2="217.11" stroke="#222" stroke-width="0.6"/>
<line x1="353.34" y1="214.96" x2="355.24" y2="214.96" stroke="#222" stroke-width="0.6"/>
<line x1="353.34" y1="213.06" x2="355.24" y2="213.06" stroke="#222" stroke-width="0.6"/>
<line x1="353.34" y1="200.21" x2="355.24" y2="200.21" stroke="#222" stroke-width="0.6"/>
<line x1="353.34" y1="193.68" x2="355.24" y2="193.68" stroke="#222" stroke-width="0.6"/>
<line x1="353.34" y1="189.05" x2="355.24" y2="189.05" stroke="#222" stroke-width="0.6"/>
<line x1="353.34" y1="185.46" x2="355.24" y2="185.46" stroke="#222" stroke-width="0.6"/>
<line x1="353.34" y1="182.52" x2="355.24" y2="182.52" stroke="#222" stroke-width="0.6"/>
<line x1="353.34" y1="180.04" x2="355.24" y2="180.04" stroke="#222" stroke-width="0.6"/>
<line x1="353.34" y1="177.89" x2="355.24" y2="177.89" stroke="#222" stroke-width="0.6"/>
<line x1="353.34" y1="176.00" x2="355.24" y2="176.00" stroke="#222" stroke-width="0.6"/>
<line x1="274.60" y1="285.50" x2="274.60" y2="288.50" stroke="#6a6a6a" stroke-width="1.0"/>
<line x1="299.10" y1="285.50" x2="299.10" y2="288.50" stroke="#6a6a6a" stroke-width="1.0"/>
<line x1="333.60" y1="285.50" x2="333.60" y2="288.50" stroke="#6a6a6a" stroke-width="1.0"/>
<text transform="translate(251.84,169.00) skewX(0.3)" class="pl">(g)</text>
<line x1="363.01" y1="229.90" x2="461.51" y2="229.90" stroke="#e2e2e2" stroke-width="1.0" stroke-dasharray="0.8 0.5"/>
<line x1="382.80" y1="174.30" x2="382.80" y2="285.50" stroke="#e2e2e2" stroke-width="1.0" stroke-dasharray="0.8 0.5"/>
<line x1="407.40" y1="174.30" x2="407.40" y2="285.50" stroke="#e2e2e2" stroke-width="1.0" stroke-dasharray="0.8 0.5"/>
<line x1="441.80" y1="174.30" x2="441.80" y2="285.50" stroke="#e2e2e2" stroke-width="1.0" stroke-dasharray="0.8 0.5"/>
<line x1="421.71" y1="248.43" x2="461.51" y2="248.43" stroke="#555" stroke-width="0.9"/>
<rect x="375.65" y="231.30" width="14.30" height="8.10" stroke="#0000ff" stroke-width="1.3" fill="none"/>
<line x1="375.65" y1="235.30" x2="389.95" y2="235.30" stroke="#0000ff" stroke-width="1.3" fill="none"/>
<line x1="382.80" y1="224.10" x2="382.80" y2="231.30" stroke="#0000ff" stroke-width="1.3" fill="none"/>
<line x1="382.80" y1="239.40" x2="382.80" y2="257.20" stroke="#0000ff" stroke-width="1.3" fill="none"/>
<line x1="378.80" y1="224.10" x2="386.80" y2="224.10" stroke="#0000ff" stroke-width="1.3" fill="none"/>
<line x1="378.80" y1="257.20" x2="386.80" y2="257.20" stroke="#0000ff" stroke-width="1.3" fill="none"/>
<rect x="400.25" y="194.70" width="14.30" height="3.60" stroke="#ff0000" stroke-width="1.3" fill="none"/>
<line x1="400.25" y1="196.40" x2="414.55" y2="196.40" stroke="#ff0000" stroke-width="1.3" fill="none"/>
<line x1="407.40" y1="189.80" x2="407.40" y2="194.70" stroke="#ff0000" stroke-width="1.3" fill="none"/>
<line x1="407.40" y1="198.30" x2="407.40" y2="205.30" stroke="#ff0000" stroke-width="1.3" fill="none"/>
<line x1="403.40" y1="189.80" x2="411.40" y2="189.80" stroke="#ff0000" stroke-width="1.3" fill="none"/>
<line x1="403.40" y1="205.30" x2="411.40" y2="205.30" stroke="#ff0000" stroke-width="1.3" fill="none"/>
<rect x="434.65" y="219.50" width="14.30" height="5.80" stroke="#000000" stroke-width="1.3" fill="none"/>
<line x1="434.65" y1="222.40" x2="448.95" y2="222.40" stroke="#000000" stroke-width="1.3" fill="none"/>
<line x1="441.80" y1="213.40" x2="441.80" y2="219.50" stroke="#000000" stroke-width="1.3" fill="none"/>
<line x1="441.80" y1="225.30" x2="441.80" y2="233.50" stroke="#000000" stroke-width="1.3" fill="none"/>
<line x1="437.80" y1="213.40" x2="445.80" y2="213.40" stroke="#000000" stroke-width="1.3" fill="none"/>
<line x1="437.80" y1="233.50" x2="445.80" y2="233.50" stroke="#000000" stroke-width="1.3" fill="none"/>
<rect x="363.01" y="174.30" width="98.50" height="111.20" fill="none" stroke="#6a6a6a" stroke-width="1.0"/>
<line x1="359.61" y1="174.30" x2="363.01" y2="174.30" stroke="#6a6a6a" stroke-width="1.0"/>
<line x1="359.61" y1="229.90" x2="363.01" y2="229.90" stroke="#6a6a6a" stroke-width="1.0"/>
<line x1="359.61" y1="285.50" x2="363.01" y2="285.50" stroke="#6a6a6a" stroke-width="1.0"/>
<line x1="361.11" y1="213.16" x2="363.01" y2="213.16" stroke="#222" stroke-width="0.6"/>
<line x1="361.11" y1="203.37" x2="363.01" y2="203.37" stroke="#222" stroke-width="0.6"/>
<line x1="361.11" y1="196.43" x2="363.01" y2="196.43" stroke="#222" stroke-width="0.6"/>
<line x1="361.11" y1="191.04" x2="363.01" y2="191.04" stroke="#222" stroke-width="0.6"/>
<line x1="361.11" y1="186.63" x2="363.01" y2="186.63" stroke="#222" stroke-width="0.6"/>
<line x1="361.11" y1="182.91" x2="363.01" y2="182.91" stroke="#222" stroke-width="0.6"/>
<line x1="361.11" y1="179.69" x2="363.01" y2="179.69" stroke="#222" stroke-width="0.6"/>
<line x1="361.11" y1="176.84" x2="363.01" y2="176.84" stroke="#222" stroke-width="0.6"/>
<line x1="361.11" y1="268.76" x2="363.01" y2="268.76" stroke="#222" stroke-width="0.6"/>
<line x1="361.11" y1="258.97" x2="363.01" y2="258.97" stroke="#222" stroke-width="0.6"/>
<line x1="361.11" y1="252.03" x2="363.01" y2="252.03" stroke="#222" stroke-width="0.6"/>
<line x1="361.11" y1="246.64" x2="363.01" y2="246.64" stroke="#222" stroke-width="0.6"/>
<line x1="361.11" y1="242.23" x2="363.01" y2="242.23" stroke="#222" stroke-width="0.6"/>
<line x1="361.11" y1="238.51" x2="363.01" y2="238.51" stroke="#222" stroke-width="0.6"/>
<line x1="361.11" y1="235.29" x2="363.01" y2="235.29" stroke="#222" stroke-width="0.6"/>
<line x1="361.11" y1="232.44" x2="363.01" y2="232.44" stroke="#222" stroke-width="0.6"/>
<line x1="461.51" y1="285.50" x2="464.91" y2="285.50" stroke="#6a6a6a" stroke-width="1.0"/>
<line x1="461.51" y1="248.43" x2="464.91" y2="248.43" stroke="#6a6a6a" stroke-width="1.0"/>
<line x1="461.51" y1="211.37" x2="464.91" y2="211.37" stroke="#6a6a6a" stroke-width="1.0"/>
<line x1="461.51" y1="174.30" x2="464.91" y2="174.30" stroke="#6a6a6a" stroke-width="1.0"/>
<line x1="461.51" y1="274.34" x2="463.41" y2="274.34" stroke="#222" stroke-width="0.6"/>
<line x1="461.51" y1="267.81" x2="463.41" y2="267.81" stroke="#222" stroke-width="0.6"/>
<line x1="461.51" y1="263.18" x2="463.41" y2="263.18" stroke="#222" stroke-width="0.6"/>
<line x1="461.51" y1="259.59" x2="463.41" y2="259.59" stroke="#222" stroke-width="0.6"/>
<line x1="461.51" y1="256.66" x2="463.41" y2="256.66" stroke="#222" stroke-width="0.6"/>
<line x1="461.51" y1="254.18" x2="463.41" y2="254.18" stroke="#222" stroke-width="0.6"/>
<line x1="461.51" y1="252.03" x2="463.41" y2="252.03" stroke="#222" stroke-width="0.6"/>
<line x1="461.51" y1="250.13" x2="463.41" y2="250.13" stroke="#222" stroke-width="0.6"/>
<line x1="461.51" y1="237.28" x2="463.41" y2="237.28" stroke="#222" stroke-width="0.6"/>
<line x1="461.51" y1="230.75" x2="463.41" y2="230.75" stroke="#222" stroke-width="0.6"/>
<line x1="461.51" y1="226.12" x2="463.41" y2="226.12" stroke="#222" stroke-width="0.6"/>
<line x1="461.51" y1="222.52" x2="463.41" y2="222.52" stroke="#222" stroke-width="0.6"/>
<line x1="461.51" y1="219.59" x2="463.41" y2="219.59" stroke="#222" stroke-width="0.6"/>
<line x1="461.51" y1="217.11" x2="463.41" y2="217.11" stroke="#222" stroke-width="0.6"/>
<line x1="461.51" y1="214.96" x2="463.41" y2="214.96" stroke="#222" stroke-width="0.6"/>
<line x1="461.51" y1="213.06" x2="463.41" y2="213.06" stroke="#222" stroke-width="0.6"/>
<line x1="461.51" y1="200.21" x2="463.41" y2="200.21" stroke="#222" stroke-width="0.6"/>
<line x1="461.51" y1="193.68" x2="463.41" y2="193.68" stroke="#222" stroke-width="0.6"/>
<line x1="461.51" y1="189.05" x2="463.41" y2="189.05" stroke="#222" stroke-width="0.6"/>
<line x1="461.51" y1="185.46" x2="463.41" y2="185.46" stroke="#222" stroke-width="0.6"/>
<line x1="461.51" y1="182.52" x2="463.41" y2="182.52" stroke="#222" stroke-width="0.6"/>
<line x1="461.51" y1="180.04" x2="463.41" y2="180.04" stroke="#222" stroke-width="0.6"/>
<line x1="461.51" y1="177.89" x2="463.41" y2="177.89" stroke="#222" stroke-width="0.6"/>
<line x1="461.51" y1="176.00" x2="463.41" y2="176.00" stroke="#222" stroke-width="0.6"/>
<line x1="382.80" y1="285.50" x2="382.80" y2="288.50" stroke="#6a6a6a" stroke-width="1.0"/>
<line x1="407.40" y1="285.50" x2="407.40" y2="288.50" stroke="#6a6a6a" stroke-width="1.0"/>
<line x1="441.80" y1="285.50" x2="441.80" y2="288.50" stroke="#6a6a6a" stroke-width="1.0"/>
<text transform="translate(359.91,169.00) skewX(0.3)" class="pl">(h)</text>
<text transform="translate(14.30,176.90) skewX(0.3)" class="tk">10</text>
<text transform="translate(23.00,173.60) skewX(0.3)" class="sup" textLength="7.4" lengthAdjust="spacingAndGlyphs">−1</text>
<text transform="translate(14.30,232.50) skewX(0.3)" class="tk">10</text>
<text transform="translate(23.00,229.20) skewX(0.3)" class="sup" textLength="7.4" lengthAdjust="spacingAndGlyphs">−2</text>
<text transform="translate(14.30,288.10) skewX(0.3)" class="tk">10</text>
<text transform="translate(23.00,284.80) skewX(0.3)" class="sup" textLength="7.4" lengthAdjust="spacingAndGlyphs">−3</text>
<text transform="translate(467.31,176.90) skewX(0.3)" class="tk">10</text>
<text transform="translate(474.51,173.40) skewX(0.3)" class="sup">2</text>
<text transform="translate(467.31,213.97) skewX(0.3)" class="tk">10</text>
<text transform="translate(474.51,210.47) skewX(0.3)" class="sup">1</text>
<text transform="translate(467.31,251.03) skewX(0.3)" class="tk">10</text>
<text transform="translate(474.51,247.53) skewX(0.3)" class="sup">0</text>
<text transform="translate(467.31,288.10) skewX(0.3)" class="tk">10</text>
<text transform="translate(474.51,284.60) skewX(0.3)" class="sup" textLength="7.4" lengthAdjust="spacingAndGlyphs">−1</text>
<text transform="translate(10.40,232.30) rotate(-90) skewX(0.3)" class="lab" text-anchor="middle" textLength="38.8" lengthAdjust="spacingAndGlyphs">Probability</text>
<text transform="translate(493.60,226.20) rotate(-90) skewX(0.3)" class="lab" text-anchor="middle" textLength="44.7" lengthAdjust="spacingAndGlyphs">Probability ratio</text>
</svg>
</body></html>
